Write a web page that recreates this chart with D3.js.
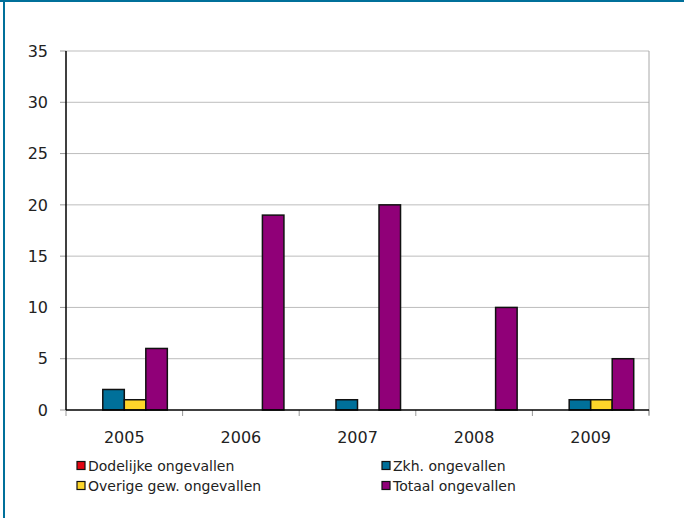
<!DOCTYPE html>
<html>
<head>
<meta charset="utf-8">
<script src="https://cdn.jsdelivr.net/npm/d3@7"></script>
<style>
  body { margin: 0; background: #fff; }
  text { font-family: "DejaVu Sans", Verdana, sans-serif; fill: #222; }
</style>
</head>
<body>
<div id="chart"></div>
<script>
const width = 684;
const height = 518;

// data
const years = ["2005", "2006", "2007", "2008", "2009"];
const seriesNames = ["Dodelijke ongevallen", "Zkh. ongevallen", "Overige gew. ongevallen", "Totaal ongevallen"];
const dodelijke = [0, 0, 0, 0, 0];
const zkh = [2, 0, 1, 0, 1];
const overige = [1, 0, 0, 0, 1];
const totaal = [6, 19, 20, 10, 5];
const yTicks = [0, 5, 10, 15, 20, 25, 30, 35];
const colors = ["#e30613", "#00709a", "#fdd52a", "#900078"];

const seriesValues = [dodelijke, zkh, overige, totaal];

const margin = { left: 66, right: 35, top: 51, bottom: 108 };

const svg = d3.select("#chart").append("svg")
    .attr("width", width)
    .attr("height", height)
    .attr("viewBox", [0, 0, width, height]);

// frame (top and left only)
svg.append("line").attr("x1", 0).attr("x2", width).attr("y1", 1).attr("y2", 1)
    .attr("stroke", "#00709a").attr("stroke-width", 2);
svg.append("line").attr("x1", 4).attr("x2", 4).attr("y1", 0).attr("y2", height)
    .attr("stroke", "#00709a").attr("stroke-width", 2);

const x = d3.scaleBand()
    .domain(years)
    .range([margin.left, width - margin.right]);

const xInner = d3.scaleBand()
    .domain(seriesNames)
    .range([0, x.bandwidth()])
    .paddingInner(0)
    .paddingOuter(0.71);

const y = d3.scaleLinear()
    .domain([0, 35])
    .range([height - margin.bottom, margin.top]);

// grid
svg.append("g").selectAll("line")
    .data(yTicks.filter(d => d > 0))
    .enter().append("line")
    .attr("x1", margin.left)
    .attr("x2", width - margin.right)
    .attr("y1", d => y(d))
    .attr("y2", d => y(d))
    .attr("stroke", "#bdbdbd")
    .attr("stroke-width", 1);

// right border of plot
svg.append("line")
    .attr("x1", width - margin.right).attr("x2", width - margin.right)
    .attr("y1", y(35)).attr("y2", y(0) + 5)
    .attr("stroke", "#a8a8a8");

// y ticks and labels
svg.append("g").selectAll("line")
    .data(yTicks)
    .enter().append("line")
    .attr("x1", margin.left - 6)
    .attr("x2", margin.left)
    .attr("y1", d => y(d))
    .attr("y2", d => y(d))
    .attr("stroke", "#999");

svg.append("g").selectAll("text")
    .data(yTicks)
    .enter().append("text")
    .attr("x", margin.left - 18)
    .attr("y", d => y(d))
    .attr("dy", "0.36em")
    .attr("text-anchor", "end")
    .style("font-size", "16px")
    .text(d => d);

// x ticks at band edges
const edges = years.map(d => x(d)).concat([x.range()[1]]);
svg.append("g").selectAll("line")
    .data(edges)
    .enter().append("line")
    .attr("x1", d => d)
    .attr("x2", d => d)
    .attr("y1", y(0))
    .attr("y2", y(0) + 6)
    .attr("stroke", "#999");

svg.append("g").selectAll("text")
    .data(years)
    .enter().append("text")
    .attr("x", d => x(d) + x.bandwidth() / 2)
    .attr("y", y(0) + 33)
    .attr("text-anchor", "middle")
    .style("font-size", "16px")
    .text(d => d);

// bars
const groups = svg.append("g").selectAll("g")
    .data(seriesNames)
    .enter().append("g")
    .attr("fill", (d, i) => colors[i]);

groups.selectAll("rect")
    .data((d, i) => years.map((yr, j) => ({ name: d, year: yr, value: seriesValues[i][j] })))
    .enter().append("rect")
    .filter(d => d.value > 0)
    .attr("x", d => x(d.year) + xInner(d.name))
    .attr("y", d => y(d.value))
    .attr("width", xInner.bandwidth())
    .attr("height", d => y(0) - y(d.value))
    .attr("stroke", "#111")
    .attr("stroke-width", 1.5);

// axes lines
svg.append("line")
    .attr("x1", margin.left).attr("x2", margin.left)
    .attr("y1", y(35)).attr("y2", y(0))
    .attr("stroke", "#000").attr("stroke-width", 1.5);
svg.append("line")
    .attr("x1", margin.left).attr("x2", width - margin.right)
    .attr("y1", y(0)).attr("y2", y(0))
    .attr("stroke", "#000").attr("stroke-width", 1.5);

// legend
const legendPos = [[77, 466], [382, 466], [77, 486], [382, 486]];
const legend = svg.append("g").selectAll("g")
    .data(seriesNames)
    .enter().append("g")
    .attr("transform", (d, i) => `translate(${legendPos[i][0]}, ${legendPos[i][1]})`);

legend.append("rect")
    .attr("x", 0)
    .attr("y", -4.5)
    .attr("width", 8)
    .attr("height", 8)
    .attr("fill", (d, i) => colors[i])
    .attr("stroke", "#111")
    .attr("stroke-width", 1.2);

legend.append("text")
    .attr("x", 11)
    .attr("y", 0)
    .attr("dy", "0.36em")
    .style("font-size", "14px")
    .text(d => d);
</script>
</body>
</html>
